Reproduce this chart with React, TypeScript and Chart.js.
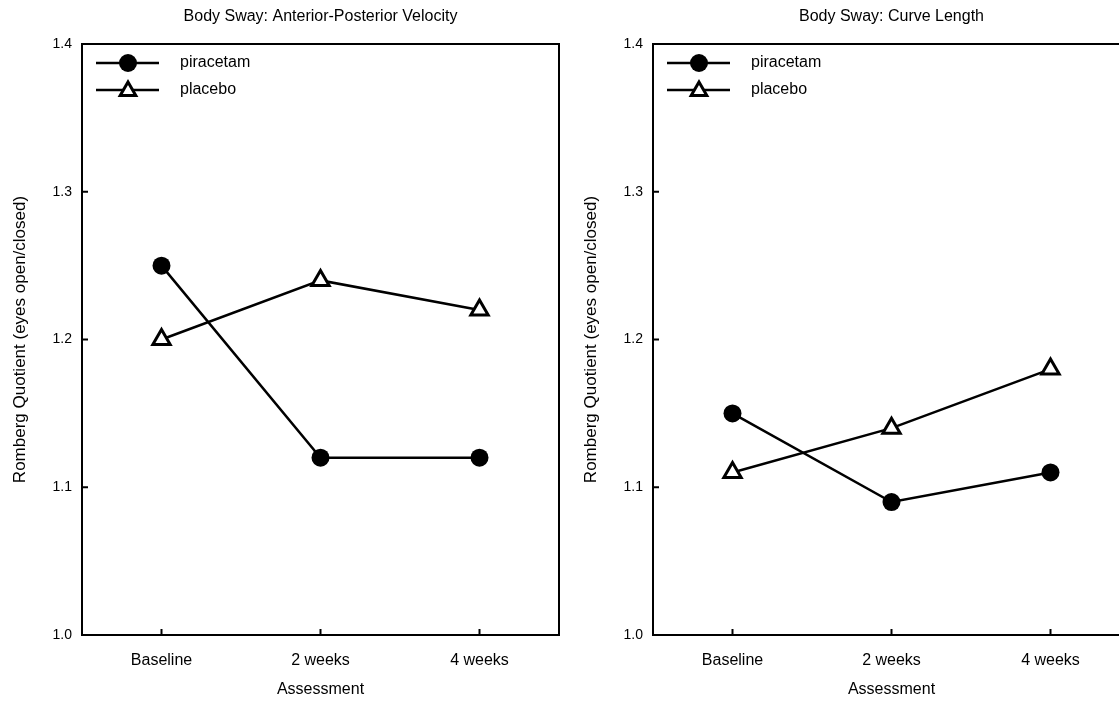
import React, { useEffect, useRef } from "react";
import { Chart, registerables } from "chart.js";

Chart.register(...registerables);

const categories = ["Baseline", "2 weeks", "4 weeks"];
const leftTitle = "Body Sway: Anterior-Posterior Velocity";
const rightTitle = "Body Sway: Curve Length";
const leftPiracetam = [1.25, 1.12, 1.12];
const leftPlacebo = [1.2, 1.24, 1.22];
const rightPiracetam = [1.15, 1.09, 1.11];
const rightPlacebo = [1.11, 1.14, 1.18];
const yTicks = [1.0, 1.1, 1.2, 1.3, 1.4];
const seriesNames = ["piracetam", "placebo"];
const yAxisTitle = "Romberg Quotient (eyes open/closed)";
const xAxisTitle = "Assessment";

const FONT = "'Liberation Sans', Arial, Helvetica, sans-serif";
const CW = 575;
const CH = 701;

function drawCircle(ctx: CanvasRenderingContext2D, x: number, y: number, r: number) {
  ctx.beginPath();
  ctx.arc(x, y, r, 0, Math.PI * 2);
  ctx.fillStyle = "#000";
  ctx.fill();
}
function drawTri(ctx: CanvasRenderingContext2D, x: number, y: number, r: number) {
  ctx.beginPath();
  for (let i = 0; i < 3; i++) {
    const a = (i * 2 * Math.PI) / 3;
    const px = x + Math.sin(a) * r;
    const py = y - Math.cos(a) * r;
    if (i === 0) ctx.moveTo(px, py);
    else ctx.lineTo(px, py);
  }
  ctx.closePath();
  ctx.fillStyle = "#fff";
  ctx.fill();
  ctx.lineWidth = 3;
  ctx.strokeStyle = "#000";
  ctx.lineJoin = "miter";
  ctx.stroke();
}

function makeChart(canvas: HTMLCanvasElement, title: string, pir: number[], pla: number[]) {
  const framePlugin = {
    id: "frame",
    afterDraw(chart: any) {
      const ctx = chart.ctx as CanvasRenderingContext2D;
      const a = chart.chartArea;
      ctx.save();
      ctx.strokeStyle = "#000";
      ctx.lineWidth = 2;
      ctx.strokeRect(a.left, a.top, a.right - a.left, a.bottom - a.top);
      const ys = chart.scales.y;
      yTicks.forEach((v) => {
        const py = ys.getPixelForValue(v);
        ctx.beginPath();
        ctx.moveTo(a.left, py);
        ctx.lineTo(a.left + 6, py);
        ctx.stroke();
      });
      const xs = chart.scales.x;
      categories.forEach((_, i) => {
        const px = xs.getPixelForValue(i);
        ctx.beginPath();
        ctx.moveTo(px, a.bottom);
        ctx.lineTo(px, a.bottom - 6);
        ctx.stroke();
      });
      ctx.fillStyle = "#000";
      ctx.font = `16px ${FONT}`;
      ctx.textAlign = "center";
      ctx.textBaseline = "middle";
      ctx.fillText(title, (a.left + a.right) / 2, 17);
      const ly = [a.top + 19, a.top + 46];
      ly.forEach((y, i) => {
        ctx.beginPath();
        ctx.strokeStyle = "#000";
        ctx.lineWidth = 2.5;
        ctx.moveTo(a.left + 14, y);
        ctx.lineTo(a.left + 77, y);
        ctx.stroke();
        if (i === 0) drawCircle(ctx, a.left + 46, y, 9);
        else drawTri(ctx, a.left + 46, y + 1, 9);
        ctx.fillStyle = "#000";
        ctx.font = `16px ${FONT}`;
        ctx.textAlign = "left";
        ctx.textBaseline = "middle";
        ctx.fillText(seriesNames[i], a.left + 98, y);
      });
      ctx.restore();
    },
  };

  return new Chart(canvas, {
    type: "line",
    data: {
      labels: categories,
      datasets: [
        {
          label: seriesNames[0],
          data: pir,
          borderColor: "#000",
          borderWidth: 2.5,
          pointStyle: "circle",
          pointRadius: 9,
          pointBorderWidth: 0,
          pointBackgroundColor: "#000",
          pointBorderColor: "#000",
          tension: 0,
        },
        {
          label: seriesNames[1],
          data: pla,
          borderColor: "#000",
          borderWidth: 2.5,
          pointStyle: "triangle",
          pointRadius: 10,
          pointBorderWidth: 3,
          pointBackgroundColor: "#fff",
          pointBorderColor: "#000",
          tension: 0,
        },
      ],
    },
    options: {
      responsive: false,
      animation: false,
      devicePixelRatio: 1,
      layout: { padding: { top: 44, right: 16, bottom: 0, left: 0 } },
      plugins: {
        legend: { display: false },
        title: { display: false },
        tooltip: { enabled: false },
      },
      scales: {
        x: {
          type: "category",
          offset: true,
          grid: { display: false, drawTicks: false },
          border: { display: true, color: "#000", width: 2 },
          ticks: {
            color: "#000",
            padding: 16,
            font: { family: FONT, size: 16 },
          },
          title: {
            display: true,
            text: xAxisTitle,
            color: "#000",
            font: { family: FONT, size: 16 },
            padding: { top: 0, bottom: 2 },
          },
          afterFit(scale: any) {
            scale.height = 66;
          },
        },
        y: {
          min: 1.0,
          max: 1.4,
          grid: { display: false, drawTicks: false },
          border: { display: true, color: "#000", width: 2 },
          afterBuildTicks(scale: any) {
            scale.ticks = yTicks.map((v) => ({ value: v }));
          },
          ticks: {
            color: "#000",
            padding: 10,
            font: { family: FONT, size: 14 },
            callback: (v: any) => Number(v).toFixed(1),
          },
          title: {
            display: true,
            text: yAxisTitle,
            color: "#000",
            font: { family: FONT, size: 17 },
            padding: { top: 10, bottom: 0 },
          },
          afterFit(scale: any) {
            scale.width = 82;
          },
        },
      },
    },
    plugins: [framePlugin],
  } as any);
}

function Panel({ left, title, pir, pla }: { left: number; title: string; pir: number[]; pla: number[] }) {
  const ref = useRef<HTMLCanvasElement>(null);
  useEffect(() => {
    const c = makeChart(ref.current!, title, pir, pla);
    return () => c.destroy();
  }, []);
  return (
    <canvas
      ref={ref}
      width={CW}
      height={CH}
      style={{ position: "absolute", left, top: 0, width: CW, height: CH }}
    />
  );
}

export default function App() {
  return (
    <div
      style={{
        position: "fixed",
        left: 0,
        top: 0,
        width: 1119,
        height: 701,
        overflow: "hidden",
        background: "#fff",
      }}
    >
      <Panel left={0} title={leftTitle} pir={leftPiracetam} pla={leftPlacebo} />
      <Panel left={571} title={rightTitle} pir={rightPiracetam} pla={rightPlacebo} />
    </div>
  );
}
